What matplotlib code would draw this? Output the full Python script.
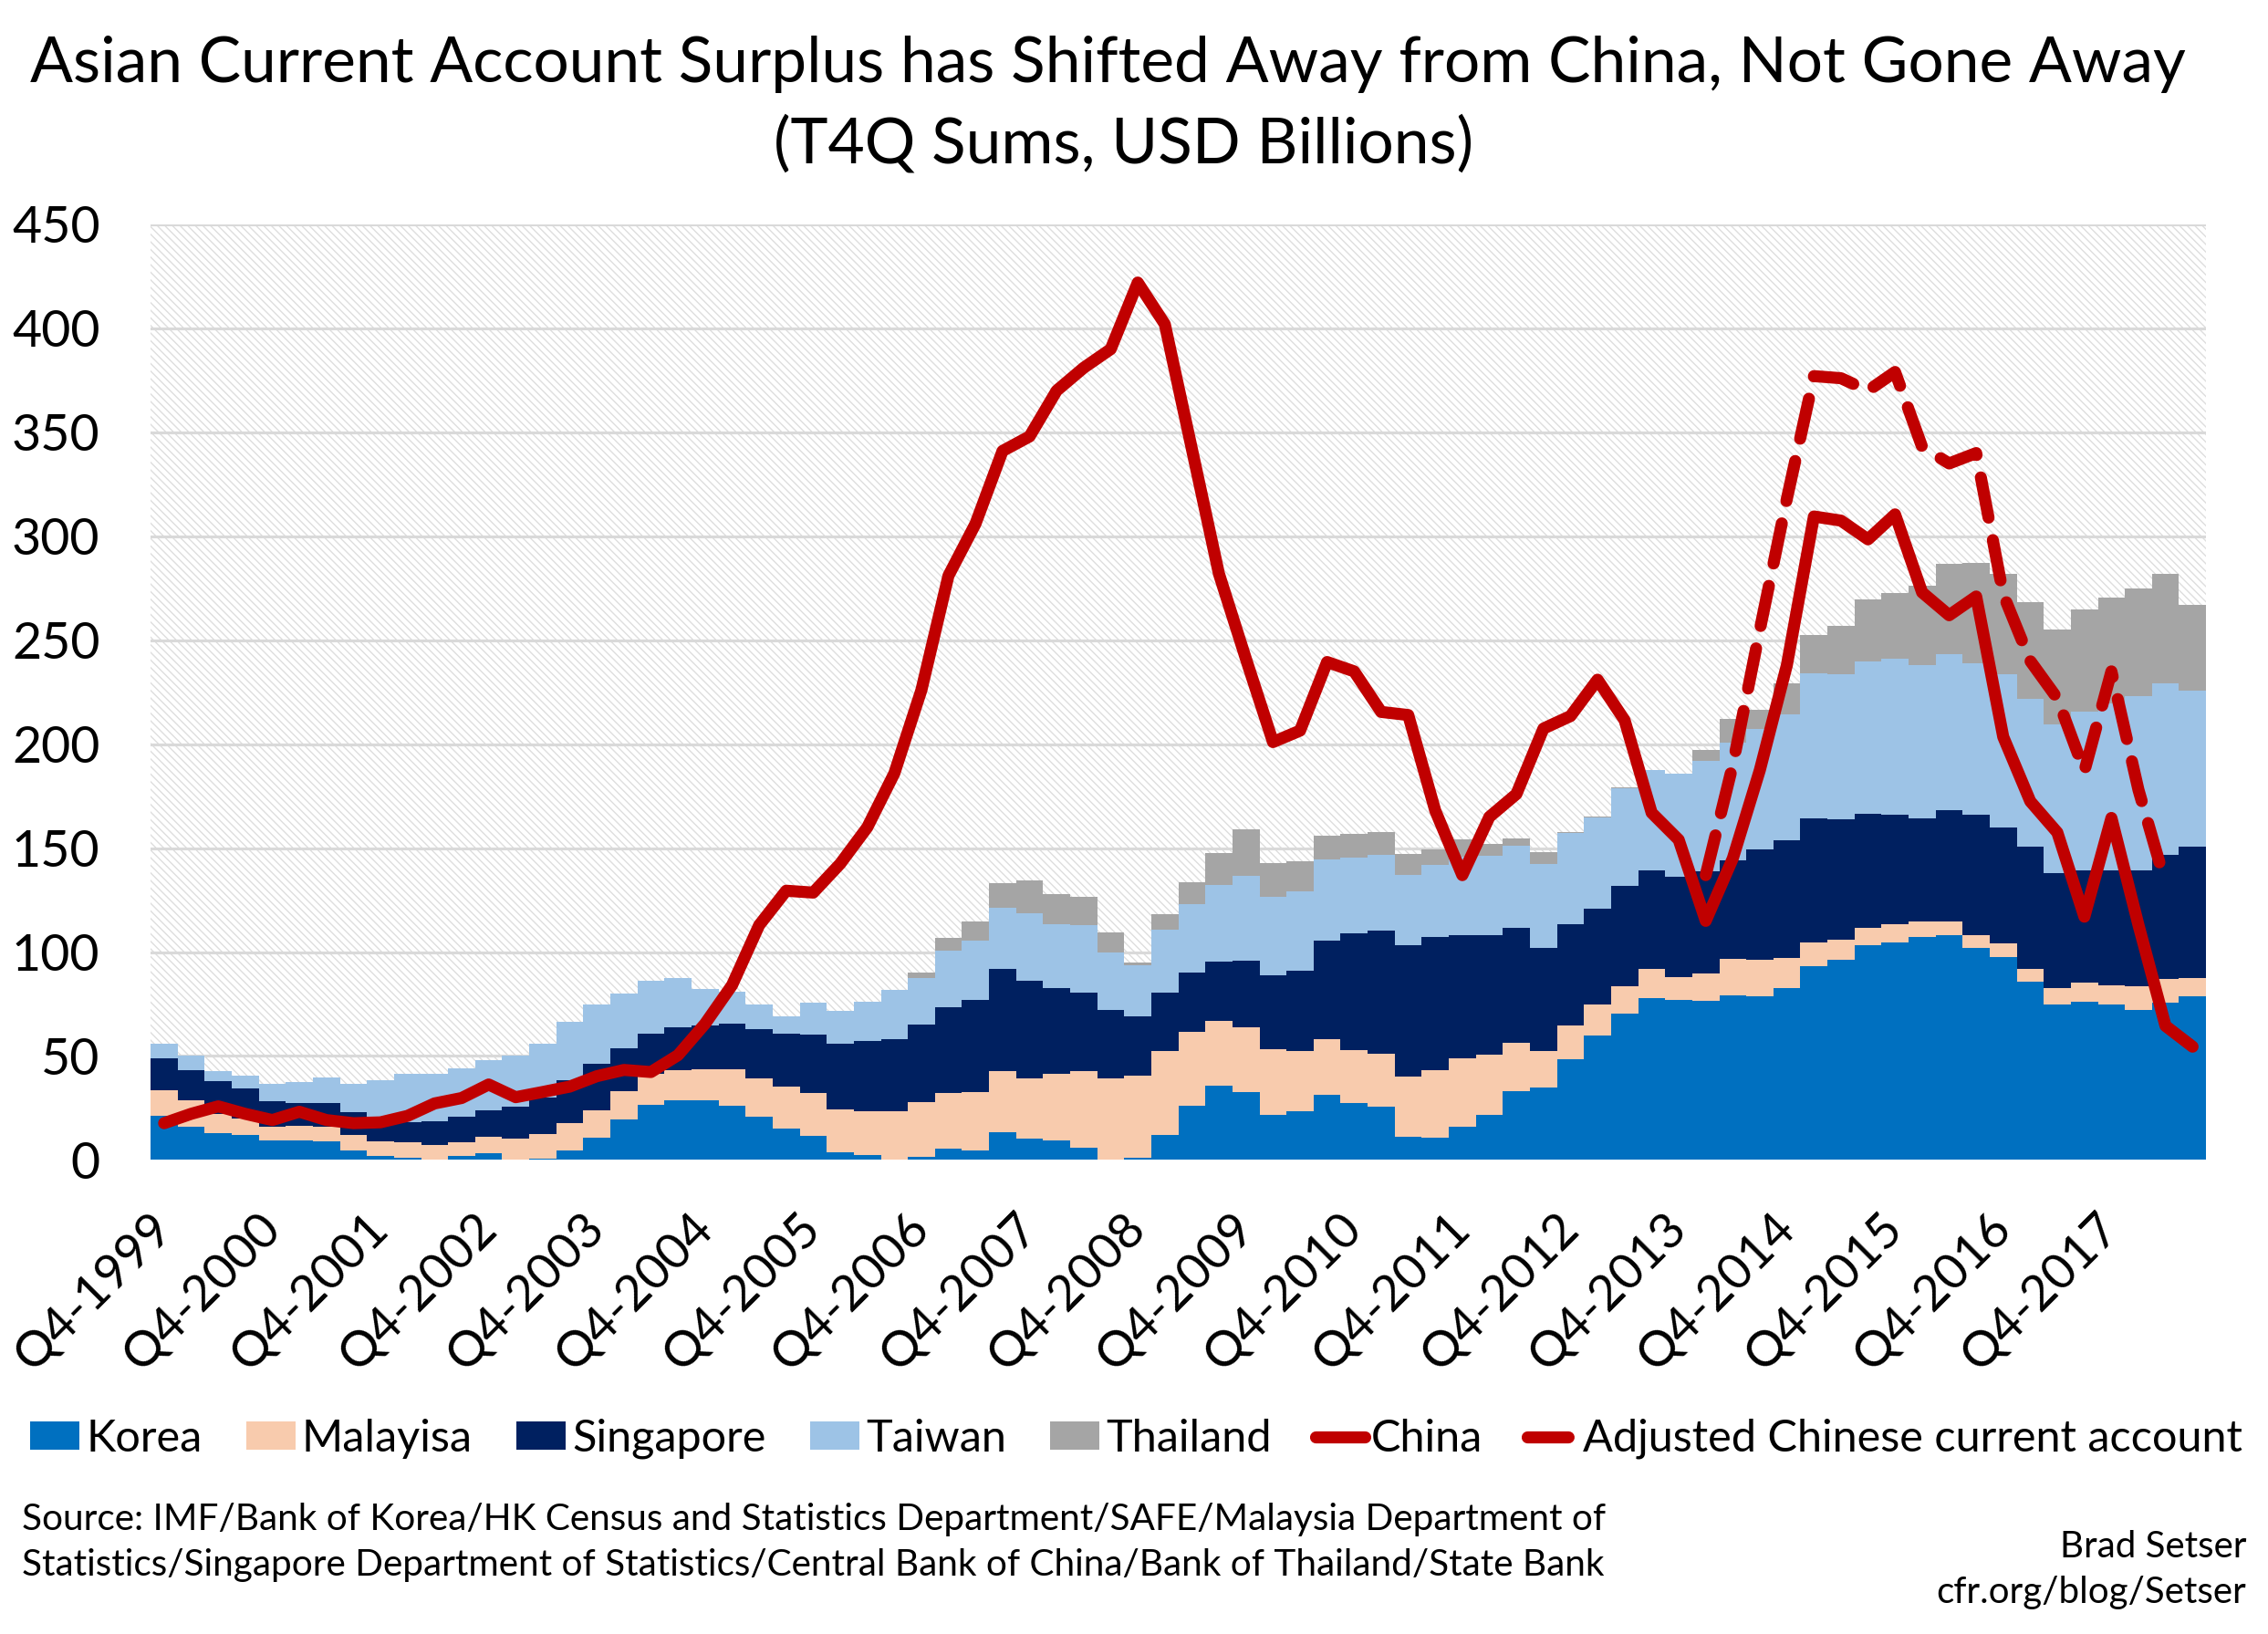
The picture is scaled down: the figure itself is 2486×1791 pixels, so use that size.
import numpy as np
import matplotlib
matplotlib.use("Agg")
import matplotlib.pyplot as plt
from matplotlib.patches import Rectangle, Patch
from matplotlib.lines import Line2D

plt.rcParams['font.family'] = ['Lato', 'DejaVu Sans']
plt.rcParams['hatch.linewidth'] = 1.0

# quarters Q4-1999 .. Q3-2018
quarters = ["Q4-1999"] + [f"Q{q}-{y}" for y in range(2000, 2019) for q in range(1, 5)]
quarters = quarters[:76]
tick_labels = [f"Q4-{y}" for y in range(1999, 2018)]

# T4Q sums, USD billions
korea = [21.2, 16.1, 13.0, 12.0, 9.5, 9.5, 9.1, 4.4, 1.8, 1.0,
         0.4, 2.0, 3.4, 0.4, 0.8, 4.6, 10.7, 19.6, 26.6, 28.8,
         28.8, 26.2, 20.8, 15.1, 11.7, 3.6, 2.4, 0.0, 1.6, 5.6,
         4.4, 13.5, 10.1, 9.5, 6.0, 0.0, 1.0, 12.1, 26.2, 35.9,
         32.7, 21.6, 23.6, 31.3, 27.2, 25.8, 11.1, 10.7, 16.1, 21.8,
         33.3, 34.9, 48.4, 59.9, 70.2, 78.0, 77.0, 76.6, 79.0, 78.6,
         82.7, 93.1, 96.2, 103.4, 104.8, 107.3, 108.3, 101.8, 97.4, 85.7,
         74.6, 76.2, 74.6, 72.0, 75.6, 78.6]
malaysia = [12.5, 12.7, 9.0, 8.0, 6.6, 7.0, 7.0, 7.7, 7.3, 7.5,
            6.7, 6.7, 7.7, 10.1, 11.7, 13.1, 13.1, 13.7, 14.7, 14.5,
            15.0, 17.6, 18.5, 20.2, 20.6, 20.6, 21.0, 23.4, 26.2, 26.7,
            28.3, 29.2, 29.2, 31.8, 36.7, 39.3, 39.7, 40.3, 35.3, 31.2,
            31.2, 31.8, 28.8, 26.6, 25.8, 25.2, 29.2, 32.4, 32.7, 29.0,
            23.2, 17.5, 16.1, 15.1, 13.5, 13.7, 11.1, 13.1, 17.8, 17.6,
            14.5, 11.7, 9.6, 8.1, 8.7, 7.6, 6.2, 6.5, 7.0, 6.4,
            8.1, 9.1, 9.5, 11.7, 11.5, 9.1]
singapore = [15.1, 14.5, 15.9, 14.4, 12.1, 10.7, 11.5, 10.7, 10.9, 9.5,
             11.7, 11.9, 12.7, 15.3, 17.5, 20.6, 22.6, 20.5, 19.6, 20.6,
             20.7, 21.7, 23.8, 25.6, 28.2, 31.6, 33.7, 34.5, 37.3, 41.3,
             44.3, 49.0, 47.0, 41.4, 37.9, 32.9, 28.3, 28.2, 28.8, 28.3,
             31.9, 35.3, 38.7, 47.5, 55.9, 59.3, 62.9, 64.2, 59.5, 57.5,
             55.0, 49.4, 49.0, 46.0, 48.0, 47.4, 48.0, 49.3, 47.4, 53.0,
             56.4, 59.5, 57.9, 54.8, 52.4, 49.4, 53.8, 57.6, 55.5, 58.5,
             55.4, 53.8, 55.0, 55.8, 59.7, 62.9]
taiwan = [7.2, 6.7, 5.0, 6.3, 8.5, 10.1, 12.3, 13.9, 18.3, 23.3,
          22.5, 23.4, 24.2, 24.6, 26.0, 28.2, 28.2, 26.4, 25.4, 23.8,
          17.6, 15.5, 11.9, 8.3, 15.1, 15.8, 18.9, 23.8, 22.6, 27.2,
          28.4, 29.7, 32.2, 30.6, 32.3, 27.6, 24.8, 30.3, 32.7, 36.7,
          40.9, 37.9, 37.9, 39.2, 36.7, 36.5, 33.9, 34.8, 37.7, 37.9,
          39.7, 40.7, 43.8, 43.7, 47.1, 48.4, 49.8, 53.1, 56.4, 57.9,
          60.7, 69.6, 69.8, 73.6, 75.0, 73.6, 75.2, 73.0, 73.6, 71.2,
          71.6, 76.6, 80.7, 83.7, 82.6, 75.2]
thailand = [0, 0, 0, 0, 0, 0, 0, 0, 0, 0,
            0, 0, 0, 0, 0, 0, 0, 0, 0, 0,
            0, 0, 0, 0, 0, 0, 0, 0, 2.4, 6.1,
            9.1, 11.7, 15.8, 14.7, 13.7, 9.5, 1.0, 7.4, 10.5, 15.7,
            22.2, 16.1, 14.5, 11.2, 11.3, 10.9, 10.1, 7.5, 8.0, 6.0,
            3.6, 5.7, 0.5, 0.3, 0.2, 0.2, 0.1, 4.9, 11.5, 9.6,
            15.1, 18.5, 23.2, 29.7, 31.9, 38.3, 43.2, 48.4, 48.2, 46.3,
            45.3, 49.0, 50.8, 51.6, 52.5, 41.3]
china = [17.7, 22.2, 25.8, 22.2, 19.2, 23.2, 19.2, 17.7, 18.1, 21.2,
         27.2, 29.8, 36.3, 30.2, 32.7, 35.3, 40.3, 43.3, 42.3, 50.4,
         65.5, 84.1, 112.9, 129.5, 128.6, 142.5, 160.0, 186.0, 226.0, 281.0,
         306.0, 341.0, 348.0, 370.0, 381.0, 390.0, 422.0, 402.0, 342.0, 282.0,
         241.0, 201.0, 206.5, 239.5, 235.0, 215.5, 214.0, 168.0, 137.0, 165.0,
         176.0, 207.5, 213.5, 231.0, 211.5, 167.0, 154.0, 115.0, 145.0, 187.5,
         238.0, 309.5, 307.5, 298.5, 310.5, 273.0, 262.0, 271.0, 203.5, 172.5,
         157.5, 117.0, 164.5, 113.0, 64.5, 54.5]
adjusted = [None] * 57 + [137, 190, 255, 318, 377, 376, 370, 379, 343, 335,
                          340, 272, 240, 222, 187, 235, 178, 133] + [None]

series = [("Korea", korea, "#0070C0"),
          ("Malayisa", malaysia, "#F8CBAD"),
          ("Singapore", singapore, "#002060"),
          ("Taiwan", taiwan, "#9DC3E6"),
          ("Thailand", thailand, "#A5A5A5")]
red = "#C00000"
lw = 9.5
dash = (3.4, 1.9)

fig = plt.figure(figsize=(24.86, 17.91), dpi=100)
ax = fig.add_axes([0.0664, 0.2901, 0.9063, 0.5726])

x = np.arange(len(quarters))
bottom = np.zeros(len(quarters))
handles = []
for name, vals, col in series:
    v = np.array(vals, dtype=float)
    ax.bar(x, v, width=1.0, bottom=bottom, color=col, linewidth=0, zorder=2)
    bottom += v
    handles.append(Patch(facecolor=col, label=name))

ax.plot(x, china, color=red, lw=lw, solid_joinstyle='round', solid_capstyle='round', zorder=4)
adj = np.array(adjusted, dtype=float)
ax.plot(x, adj, color=red, lw=lw, dashes=dash, dash_capstyle='round',
        dash_joinstyle='round', zorder=3)
handles.append(Line2D([], [], color=red, lw=lw, solid_capstyle='round', label="China"))
handles.append(Line2D([], [], color=red, lw=lw, dashes=dash, dash_capstyle='round',
                      label="Adjusted Chinese current account"))

# hatched plot background
ax.add_patch(Rectangle((0, 0), 1, 1, transform=ax.transAxes, facecolor='white',
                       edgecolor='#dedede', hatch='\\\\\\\\', lw=0, zorder=0))
ax.set_axisbelow(True)
ax.yaxis.grid(True, color='#d9d9d9', lw=2.2, zorder=0.5)

ax.set_xlim(-0.5, len(quarters) - 0.5)
ax.set_ylim(0, 450)
ax.set_yticks(np.arange(0, 451, 50))
ticks = [quarters.index(t) for t in tick_labels]
ax.set_xticks(ticks)
ax.set_xticklabels(tick_labels, rotation=45, ha='right', va='center', rotation_mode='anchor')
ax.tick_params(axis='x', length=0, pad=48, labelsize=39)
ax.tick_params(axis='y', length=0, pad=40, labelsize=40)
for s in ax.spines.values():
    s.set_visible(False)

fig.text(0.4885, 0.9497, "Asian Current Account Surplus has Shifted Away from China, Not Gone Away",
         ha='center', va='baseline', fontsize=50)
fig.text(0.4956, 0.9006, "(T4Q Sums, USD Billions)", ha='center', va='baseline', fontsize=50)

fig.legend(handles=handles, loc='center', bbox_to_anchor=(0.501, 0.1195), ncol=7,
           frameon=False, fontsize=35, handlelength=1.1, handleheight=0.58,
           handletextpad=0.15, columnspacing=1.0, borderpad=0)

fig.text(0.0097, 1 - 1677 / 1791,
         "Source: IMF/Bank of Korea/HK Census and Statistics Department/SAFE/Malaysia Department of",
         ha='left', va='baseline', fontsize=29.2)
fig.text(0.0097, 1 - 1727 / 1791,
         "Statistics/Singapore Department of Statistics/Central Bank of China/Bank of Thailand/State Bank",
         ha='left', va='baseline', fontsize=29.2)
fig.text(0.9904, 1 - 1707 / 1791, "Brad Setser", ha='right', va='baseline', fontsize=29)
fig.text(0.9904, 1 - 1757 / 1791, "cfr.org/blog/Setser", ha='right', va='baseline', fontsize=29)

fig.savefig("out.png", dpi=100)
